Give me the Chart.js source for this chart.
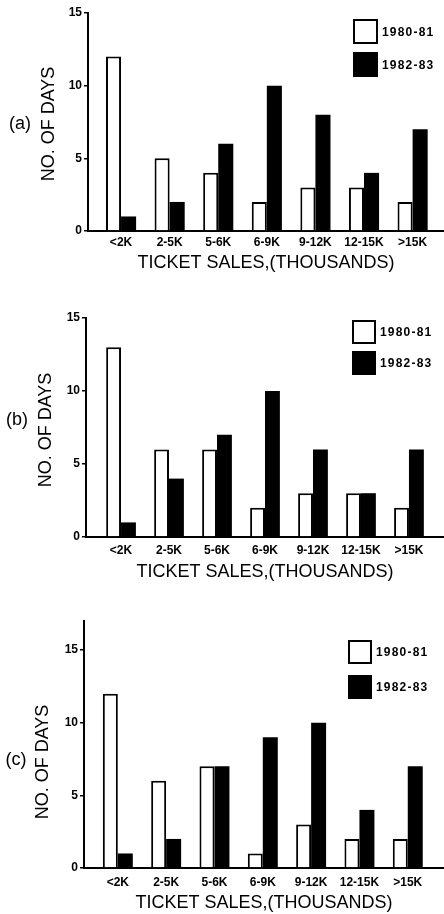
<!DOCTYPE html>
<html>
<head>
<meta charset="utf-8">
<script src="https://cdn.jsdelivr.net/npm/chart.js@4.4.1/dist/chart.umd.min.js"></script>
<style>
  html, body { margin: 0; padding: 0; background: #fff; }
  .panel { position: absolute; left: 0; width: 444px; }
</style>
</head>
<body>
<div class="panel" style="top:0"><canvas id="chartA" width="444" height="290"></canvas></div>
<div class="panel" style="top:300px"><canvas id="chartB" width="444" height="290"></canvas></div>
<div class="panel" style="top:600px"><canvas id="chartC" width="444" height="314"></canvas></div>
<script>
// data
const categories = ['<2K', '2-5K', '5-6K', '6-9K', '9-12K', '12-15K', '>15K'];
const seriesNames = ['1980-81', '1982-83'];
const a8081 = [12, 5, 4, 2, 3, 3, 2];
const a8283 = [1, 2, 6, 10, 8, 4, 7];
const b8081 = [13, 6, 6, 2, 3, 3, 2];
const b8283 = [1, 4, 7, 10, 6, 3, 6];
const c8081 = [12, 6, 7, 1, 3, 2, 2];
const c8283 = [1, 2, 7, 9, 10, 4, 7];
const yTicks = [0, 5, 10, 15];
const yTitle = 'NO. OF DAYS';
const xTitle = 'TICKET SALES,(THOUSANDS)';

const FAMILY = '"Liberation Sans", Arial, sans-serif';

// per panel layout (canvas px)
const panels = [
  { id: 'chartA', label: '(a)', s1: a8081, s2: a8283, H: 290, top: 13, base: 231, axisX: 88, yMax: 15,
    xMin: -0.68, xMax: 6.646, tickPad: 4, titlePad: 16,
    labelPos: [20, 124], yTitlePos: [49, 124], legend: { x: 354, w: 23, y1: 20, y2: 53 } },
  { id: 'chartB', label: '(b)', s1: b8081, s2: b8283, H: 290, top: 18, base: 237, axisX: 86, yMax: 15,
    xMin: -0.73, xMax: 6.73, tickPad: 6, titlePad: 7,
    labelPos: [17, 120], yTitlePos: [46, 130], legend: { x: 353, w: 22, y1: 21, y2: 52 } },
  { id: 'chartC', label: '(c)', s1: c8081, s2: c8283, H: 314, top: 21, base: 268, axisX: 84, yMax: 17,
    xMin: -0.70, xMax: 6.75, tickPad: 7, titlePad: 0,
    labelPos: [16, 160], yTitlePos: [43, 162], legend: { x: 349, w: 22, y1: 41, y2: 76 } },
];

// panel letter, rotated y title and the boxed legend
const panelDecor = {
  id: 'panelDecor',
  afterDraw(chart, args, o) {
    const ctx = chart.ctx;
    ctx.save();
    ctx.fillStyle = '#000';
    ctx.textAlign = 'center';
    ctx.textBaseline = 'middle';
    ctx.font = '18px ' + FAMILY;
    ctx.fillText(o.label, o.labelPos[0], o.labelPos[1]);
    ctx.save();
    ctx.translate(o.yTitlePos[0], o.yTitlePos[1]);
    ctx.rotate(-Math.PI / 2);
    ctx.fillText(yTitle, 0, 0);
    ctx.restore();

    const lg = o.legend;
    chart.data.datasets.forEach((ds, i) => {
      const y = i === 0 ? lg.y1 : lg.y2;
      ctx.fillStyle = ds.backgroundColor;
      ctx.fillRect(lg.x, y, lg.w, lg.w);
      ctx.lineWidth = 2;
      ctx.strokeStyle = '#000';
      ctx.strokeRect(lg.x, y, lg.w, lg.w);
      ctx.fillStyle = '#000';
      ctx.textAlign = 'left';
      ctx.font = 'bold 12px ' + FAMILY;
      ctx.letterSpacing = '1.2px';
      ctx.fillText(ds.label, lg.x + lg.w + 5, y + lg.w / 2 + 1);
      ctx.letterSpacing = '0px';
    });
    ctx.restore();
  }
};

function pts(arr) { return arr.map((v, i) => ({ x: i, y: v })); }

function makeChart(p) {
  return new Chart(document.getElementById(p.id), {
    type: 'bar',
    data: {
      datasets: [
        { label: seriesNames[0], data: pts(p.s1), backgroundColor: '#fff', borderColor: '#000', borderWidth: 2 },
        { label: seriesNames[1], data: pts(p.s2), backgroundColor: '#000', borderColor: '#000', borderWidth: 0 },
      ]
    },
    options: {
      responsive: false,
      animation: false,
      categoryPercentage: 0.62,
      barPercentage: 1.0,
      layout: { padding: { top: p.top, left: 0, right: 0, bottom: 0 } },
      plugins: {
        legend: { display: false },
        tooltip: { enabled: false },
        panelDecor: p,
      },
      scales: {
        x: {
          type: 'linear', min: p.xMin, max: p.xMax, bounds: 'data', offset: false,
          grid: { display: false, drawTicks: false },
          border: { display: true, color: '#000', width: 2 },
          afterBuildTicks: (s) => { s.ticks = categories.map((c, i) => ({ value: i })); },
          ticks: {
            autoSkip: false, maxRotation: 0,
            padding: p.tickPad, color: '#000', font: { family: FAMILY, size: 12, weight: 'bold' },
            callback: (v) => categories[v] ?? ''
          },
          title: { display: true, text: xTitle, color: '#000', font: { family: FAMILY, size: 18 },
                   padding: { top: 0, bottom: p.titlePad } },
          afterFit: (s) => { s.height = p.H - p.base; }
        },
        y: {
          min: 0, max: p.yMax, bounds: 'data',
          grid: { drawOnChartArea: false, drawTicks: true, tickLength: 4, color: '#000', lineWidth: 1.5 },
          border: { display: true, color: '#000', width: 2 },
          afterBuildTicks: (s) => { s.ticks = yTicks.map(v => ({ value: v })); },
          ticks: { padding: 2, color: '#000', font: { family: FAMILY, size: 12, weight: 'bold' } },
          afterFit: (s) => { s.width = p.axisX; }
        }
      }
    },
    plugins: [panelDecor]
  });
}

panels.forEach(makeChart);
</script>
</body>
</html>
